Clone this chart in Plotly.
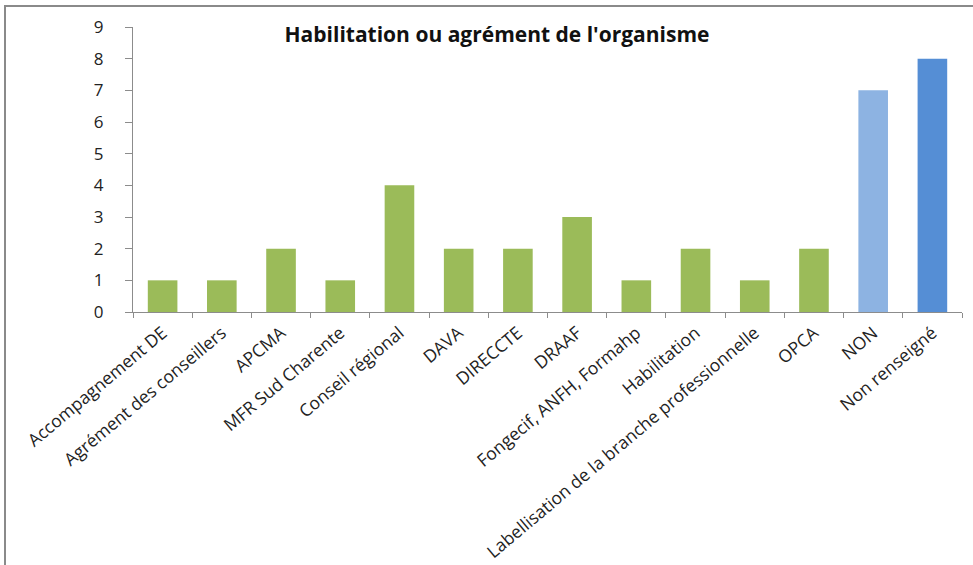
import plotly.graph_objects as go

categories = ["Accompagnement DE", "Agrément des conseillers", "APCMA", "MFR Sud Charente",
              "Conseil régional", "DAVA", "DIRECCTE", "DRAAF", "Fongecif, ANFH, Formahp",
              "Habilitation", "Labellisation de la branche professionnelle", "OPCA", "NON",
              "Non renseigné"]
values = [1, 1, 2, 1, 4, 2, 2, 3, 1, 2, 1, 2, 7, 8]
colors = ["#9BBB59"] * 12 + ["#8DB3E2", "#558ED5"]
title = "Habilitation ou agrément de l'organisme"
y_ticks = list(range(0, 10))

fig = go.Figure(go.Bar(x=categories, y=values, marker=dict(color=colors, line=dict(width=0)),
                       width=0.5))

W, H = 973, 565
ml, mr, mt, mb = 133, 11, 27, 253
pw, ph = W - ml - mr, H - mt - mb
fig.update_layout(
    width=W, height=H,
    margin=dict(l=ml, r=mr, t=mt, b=mb, pad=0, autoexpand=False),
    paper_bgcolor="white", plot_bgcolor="white",
    font=dict(family="Open Sans, sans-serif", size=15, color="#222222"),
    title=dict(text="<b>" + title + "</b>", x=497 / W, xanchor="center", xref="container",
               y=1 - 35 / H, yanchor="middle",
               font=dict(size=21, color="#111111", family="Open Sans, sans-serif")),
    showlegend=False,
    bargap=0.5,
)
fig.update_xaxes(showline=True, linecolor="#8C8C8C", linewidth=1, ticks="outside",
                 tickson="boundaries", ticklen=5, tickcolor="#8C8C8C", tickangle=-40,
                 showgrid=False, tickfont=dict(size=17.5, color="#222222"), automargin=False,
                 ticklabelstandoff=3)
fig.update_yaxes(range=[0, 9], tickvals=y_ticks, showline=True, linecolor="#8C8C8C", linewidth=1,
                 ticks="outside", ticklen=7, tickcolor="#8C8C8C", showgrid=False, zeroline=False,
                 tickfont=dict(size=17, color="#222222"), ticklabelstandoff=18, automargin=False)

# outer chart frame
fig.add_shape(type="rect", xref="paper", yref="paper",
              x0=(5 - ml) / pw, x1=(990 - ml) / pw,
              y0=(H - 590 - mb) / ph, y1=(H - 6 - mb) / ph,
              line=dict(color="#8A8A8A", width=2), fillcolor="rgba(0,0,0,0)", layer="below")

fig.write_html("out.html", config={"displayModeBar": False},
               post_script="document.body.style.margin='0';")
